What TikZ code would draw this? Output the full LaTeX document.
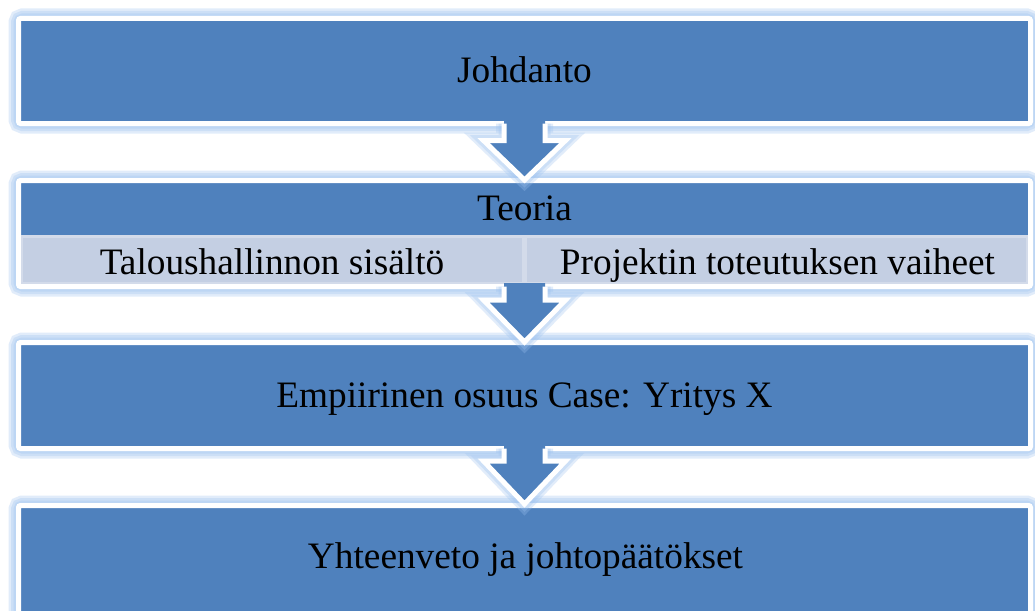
\documentclass[tikz,border=0pt]{standalone}
\usepackage{fontspec}
\setmainfont{Liberation Serif}
\newfontfamily\timesfont{Liberation Serif}
\definecolor{boxblue}{HTML}{4F81BD}
\definecolor{glowblue}{HTML}{9CC2F0}
\definecolor{subfill}{HTML}{C4CFE3}
\definecolor{subline}{HTML}{D3DBEA}
\tikzset{
  lbl/.style={anchor=base, inner sep=0pt, text=black, font=\timesfont\fontsize{37.3}{44}\selectfont},
  boxframe/.style={draw=white, line width=5pt, fill=boxblue, rounded corners=2pt},
  glowline/.style={draw=glowblue, line width=#1, rounded corners=4pt, opacity=0.3},
  arrowglow/.style={draw=glowblue, line width=#1, opacity=0.3, line join=miter},
  arrowline/.style={draw=white, line width=5pt, line join=miter},
}
% glowing box: #1 x1, #2 y1, #3 x2, #4 y2 (blue area)
\newcommand\myglowbox[4]{%
  \foreach \w in {20pt,15pt,10pt}
    \draw[glowline=\w] (#1-2.5,#2-2.5) rectangle (#3+2.5,#4+2.5);
  \draw[boxframe] (#1-2.5,#2-2.5) rectangle (#3+2.5,#4+2.5);
}
% block arrow: #1 centre x, #2 box bottom, #3 head base, #4 tip
\newcommand\myblockarrow[4]{%
  \foreach \w in {16pt,11pt}
    \draw[arrowglow=\w] (#1-20.5,#2+2.5) -- (#1-20.5,#3) -- (#1-41,#3) -- (#1,#4) -- (#1+41,#3) -- (#1+20.5,#3) -- (#1+20.5,#2+2.5);
  \fill[boxblue] (#1-20.5,#2-1) -- (#1-20.5,#3) -- (#1-41,#3) -- (#1,#4) -- (#1+41,#3) -- (#1+20.5,#3) -- (#1+20.5,#2-1) -- cycle;
  \draw[arrowline] (#1-20.5,#2+2.5) -- (#1-20.5,#3) -- (#1-41,#3) -- (#1,#4) -- (#1+41,#3) -- (#1+20.5,#3) -- (#1+20.5,#2+2.5);
}
\begin{document}
\begin{tikzpicture}[x=1pt,y=-1pt]
\useasboundingbox (0,0) rectangle (1035,610);
\clip (0,0) rectangle (1035,610);
\fill[white] (0,0) rectangle (1035,610);

% boxes
\myglowbox{21}{21}{1028}{121}
\myglowbox{21}{183}{1028}{284}
\myglowbox{21}{345}{1028}{446}
\myglowbox{21}{508}{1028}{612}

% sub-boxes of Teoria
\fill[subline] (21,235) rectangle (1028,284);
\fill[subfill] (23,237.5) rectangle (522,282);
\fill[subfill] (526.5,237.5) rectangle (1026,282);

% arrows
\myblockarrow{524.5}{121}{140.5}{180}
\myblockarrow{524.5}{284}{300}{342}
\myblockarrow{524.5}{446}{461}{504}

% labels
\node[lbl] (johdanto) at (524.5,82) {Johdanto};
\node[lbl] (teoria) at (524.5,220) {Teoria};
\node[lbl] (talous) at (272,274) {Taloushallinnon sisältö};
\node[lbl] (projekti) at (777.5,274) {Projektin toteutuksen vaiheet};
\node[lbl] (empiir) at (524.5,407) {Empiirinen osuus Case: Yritys X};
\node[lbl] (yhteen) at (525.5,568) {Yhteenveto ja johtopäätökset};
\end{tikzpicture}
\end{document}
